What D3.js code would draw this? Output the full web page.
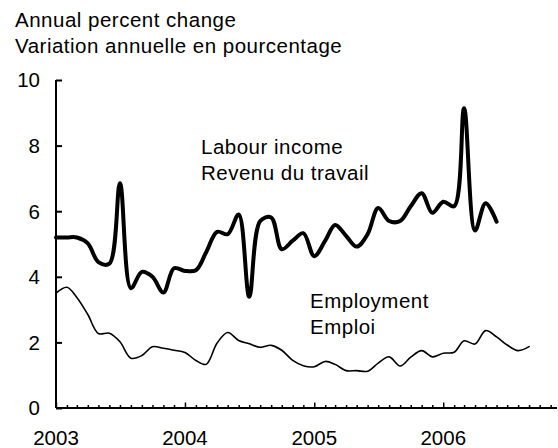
<!DOCTYPE html>
<html>
<head>
  <meta charset="utf-8">
  <title>Labour income and employment</title>
  <style>
  body {
    margin: 0px;
    background: #fff;
  }
  text {
    font-family: "Liberation Sans", Arial, Helvetica, sans-serif;
    fill: #000;
  }
  .title, .labour-label, .employment-label {
    letter-spacing: 0.5px;
  }
  .line {
    fill: none;
    stroke: #000;
    stroke-linejoin: round;
    stroke-linecap: round;
  }
  </style>
</head>
<body>
  <svg width="558" height="448"></svg>
  <script src="https://d3js.org/d3.v7.min.js"></script>
  <script>
  // monthly series, first value is January 2003
  var firstMonth = new Date(2003, 0, 1);

  var labourIncome = [
    5.2, 5.2, 5.2, 5.02, 4.45, 4.4, 6.85, 3.65, 4.15, 4.0, 3.52, 4.26,
    4.18, 4.2, 4.75, 5.37, 5.3, 5.9, 3.39, 5.7, 5.81, 4.84, 5.1, 5.33,
    4.63, 5.1, 5.58, 5.25, 4.92, 5.3, 6.1, 5.7, 5.7, 6.15, 6.55, 5.95,
    6.29, 6.15, 9.14, 5.41, 6.24, 5.68
  ];

  var employment = [
    3.5, 3.68, 3.37, 2.85, 2.27, 2.28, 2.02, 1.52, 1.6, 1.87, 1.82, 1.76,
    1.69, 1.45, 1.33, 1.98, 2.3, 2.06, 1.96, 1.85, 1.91, 1.76, 1.45, 1.29,
    1.26, 1.42, 1.33, 1.14, 1.14, 1.12, 1.37, 1.56, 1.28, 1.55, 1.75, 1.56,
    1.67, 1.7, 2.05, 1.95, 2.36, 2.17, 1.92, 1.75, 1.87
  ];

  var yTicks = [0, 2, 4, 6, 8, 10];
  var yearTicks = [2003, 2004, 2005, 2006];

  var titleLines = ["Annual percent change", "Variation annuelle en pourcentage"];
  var labourLabel = ["Labour income", "Revenu du travail"];
  var employmentLabel = ["Employment", "Emploi"];

  var svg = d3.select("svg");

  var x = d3.scaleTime()
    .domain([firstMonth, d3.timeDay.offset(firstMonth, 1418)])
    .range([56, 557]);

  var y = d3.scaleLinear()
    .domain([0, 10])
    .range([408, 80]);

  function monthDates(values) {
    return values.map(function(v, i) {
      return { date: d3.timeMonth.offset(firstMonth, i), value: v };
    });
  }

  var line = d3.line()
    .x(function(d) { return x(d.date); })
    .y(function(d) { return y(d.value); })
    .curve(d3.curveCatmullRom.alpha(0.5));

  // titles
  svg.selectAll(".title")
    .data(titleLines)
    .enter()
    .append("text")
    .attr("class", "title")
    .attr("x", 15)
    .attr("y", function(d, i) { return 27 + i * 26; })
    .attr("font-size", "20.5px")
    .text(function(d) { return d; });

  // y axis
  var yAxis = svg.append("g")
    .attr("transform", "translate(56,0)")
    .call(d3.axisRight(y).tickValues(yTicks).tickSize(6).tickFormat(""));
  yAxis.select(".domain").attr("stroke-width", 2).attr("d", "M0," + y(10) + "V" + y(0));
  yAxis.selectAll(".tick line").attr("stroke-width", 2);

  svg.selectAll(".ylabel")
    .data(yTicks)
    .enter()
    .append("text")
    .attr("class", "ylabel")
    .attr("x", 40)
    .attr("y", function(d) { return y(d); })
    .attr("dy", "0.36em")
    .attr("text-anchor", "end")
    .attr("font-size", "20.5px")
    .text(function(d) { return d; });

  // x axis: monthly minor ticks, yearly major ticks
  var monthTicks = d3.timeMonth.range(firstMonth, x.domain()[1]);
  var xAxis = svg.append("g")
    .attr("transform", "translate(0," + y(0) + ")")
    .call(d3.axisTop(x).tickValues(monthTicks).tickSize(3).tickSizeOuter(0).tickFormat(""));
  xAxis.select(".domain").attr("stroke-width", 2).attr("d", "M" + x.range()[0] + ",0H" + x.range()[1]);
  xAxis.selectAll(".tick line")
    .attr("stroke-width", 1.5)
    .attr("y2", function(d) { return d.getMonth() === 0 ? -5.5 : -3; });

  svg.selectAll(".xlabel")
    .data(yearTicks)
    .enter()
    .append("text")
    .attr("class", "xlabel")
    .attr("x", function(d) { return x(new Date(d, 0, 1)); })
    .attr("y", 445)
    .attr("text-anchor", "middle")
    .attr("font-size", "20.5px")
    .text(function(d) { return d; });

  // series
  svg.append("path")
    .datum(monthDates(employment))
    .attr("class", "line")
    .attr("stroke-width", 1.6)
    .attr("d", line);

  svg.append("path")
    .datum(monthDates(labourIncome))
    .attr("class", "line")
    .attr("stroke-width", 4)
    .attr("d", line);

  // series labels
  svg.selectAll(".labour-label")
    .data(labourLabel)
    .enter()
    .append("text")
    .attr("class", "labour-label")
    .attr("x", 201)
    .attr("y", function(d, i) { return 154 + i * 26; })
    .attr("font-size", "20.5px")
    .text(function(d) { return d; });

  svg.selectAll(".employment-label")
    .data(employmentLabel)
    .enter()
    .append("text")
    .attr("class", "employment-label")
    .attr("x", 310)
    .attr("y", function(d, i) { return 308 + i * 26; })
    .attr("font-size", "20.5px")
    .text(function(d) { return d; });
  </script>
</body>
</html>
